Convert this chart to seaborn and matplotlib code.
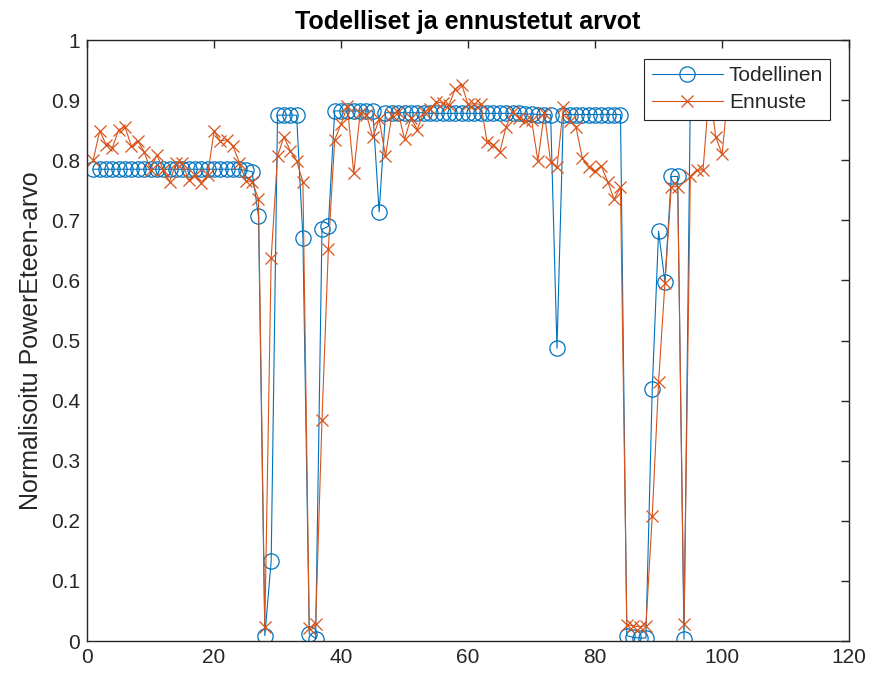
import matplotlib
matplotlib.use("Agg")
import matplotlib.pyplot as plt
import seaborn as sns
import numpy as np
import pandas as pd

sns.set_style("white")
plt.rcParams['font.family'] = ['Liberation Sans', 'DejaVu Sans']

index = list(range(1, 102))

todellinen = [
    0.785, 0.785, 0.785, 0.785, 0.785, 0.785, 0.785, 0.785, 0.785, 0.785,
    0.785, 0.785, 0.785, 0.785, 0.785, 0.785, 0.785, 0.785, 0.785, 0.785,
    0.785, 0.785, 0.785, 0.785, 0.783, 0.781, 0.707, 0.009, 0.133, 0.875,
    0.875, 0.875, 0.875, 0.670, 0.012, 0.004, 0.685, 0.690, 0.882, 0.882,
    0.882, 0.882, 0.882, 0.882, 0.882, 0.714, 0.879, 0.879, 0.879, 0.879,
    0.879, 0.879, 0.879, 0.878, 0.878, 0.878, 0.878, 0.878, 0.878, 0.878,
    0.878, 0.878, 0.878, 0.878, 0.878, 0.878, 0.878, 0.878, 0.877, 0.877,
    0.876, 0.876, 0.876, 0.487, 0.876, 0.876, 0.876, 0.876, 0.876, 0.876,
    0.876, 0.876, 0.876, 0.876, 0.009, 0.006, 0.005, 0.005, 0.419, 0.682,
    0.597, 0.773, 0.773, 0.003, 0.905, 0.905, 0.905, 0.905, 0.905, 0.905,
    0.905,
]

ennuste = [
    0.801, 0.849, 0.826, 0.821, 0.851, 0.855, 0.823, 0.832, 0.814, 0.784,
    0.809, 0.784, 0.764, 0.795, 0.796, 0.767, 0.775, 0.762, 0.776, 0.848,
    0.832, 0.834, 0.823, 0.796, 0.766, 0.764, 0.736, 0.023, 0.637, 0.807,
    0.839, 0.816, 0.799, 0.764, 0.021, 0.028, 0.368, 0.652, 0.834, 0.860,
    0.890, 0.778, 0.878, 0.876, 0.838, 0.868, 0.807, 0.876, 0.880, 0.835,
    0.870, 0.851, 0.880, 0.885, 0.897, 0.895, 0.892, 0.919, 0.926, 0.893,
    0.894, 0.893, 0.830, 0.826, 0.814, 0.856, 0.881, 0.870, 0.865, 0.867,
    0.799, 0.879, 0.797, 0.788, 0.888, 0.866, 0.855, 0.803, 0.788, 0.782,
    0.790, 0.764, 0.735, 0.755, 0.027, 0.025, 0.024, 0.025, 0.208, 0.431,
    0.596, 0.756, 0.756, 0.028, 0.773, 0.783, 0.784, 0.920, 0.839, 0.810,
    0.920,
]

x_ticks = [0, 20, 40, 60, 80, 100, 120]
y_ticks = [0, 0.1, 0.2, 0.3, 0.4, 0.5, 0.6, 0.7, 0.8, 0.9, 1]
y_tick_labels = ["0", "0.1", "0.2", "0.3", "0.4", "0.5", "0.6", "0.7", "0.8", "0.9", "1"]

blue = "#0072BD"
orange = "#D95319"

fig = plt.figure(figsize=(8.7, 6.82), dpi=100)
ax = fig.add_axes([0.1, 0.0601, 0.876, 0.8812])

sns.lineplot(x=index, y=todellinen, ax=ax, color=blue, linewidth=0.8,
             marker='o', markersize=11, markerfacecolor='none',
             markeredgecolor=blue, markeredgewidth=0.9,
             errorbar=None, label='Todellinen')
sns.lineplot(x=index, y=ennuste, ax=ax, color=orange, linewidth=0.8,
             marker='x', markersize=8, markeredgecolor=orange,
             markeredgewidth=0.9,
             errorbar=None, label='Ennuste')

ax.set_xlim(0, 120)
ax.set_ylim(0, 1)
ax.set_xticks(x_ticks)
ax.set_xticklabels([str(t) for t in x_ticks])
ax.set_yticks(y_ticks)
ax.set_yticklabels(y_tick_labels)
ax.tick_params(axis='both', which='both', direction='in', length=6, width=1,
               top=True, right=True, labelsize=15, color='#262626',
               labelcolor='#262626', pad=5)
for s in ax.spines.values():
    s.set_visible(True)
    s.set_color('#262626')
    s.set_linewidth(1.0)

ax.set_title('Todelliset ja ennustetut arvot', fontsize=18, fontweight='bold',
             pad=8, color='black')
ax.set_ylabel('Normalisoitu PowerEteen-arvo', fontsize=18, color='#262626',
              labelpad=6)
ax.set_xlabel('')

leg = ax.legend(loc='upper right', fontsize=15, frameon=True, fancybox=False,
                edgecolor='#262626', framealpha=1, handlelength=3.4,
                handletextpad=0.3, borderaxespad=0.9, borderpad=0.35,
                labelspacing=0.4)
leg.get_frame().set_linewidth(0.8)
leg.set_zorder(10)

fig.savefig('out.png', dpi=100, facecolor='white')
